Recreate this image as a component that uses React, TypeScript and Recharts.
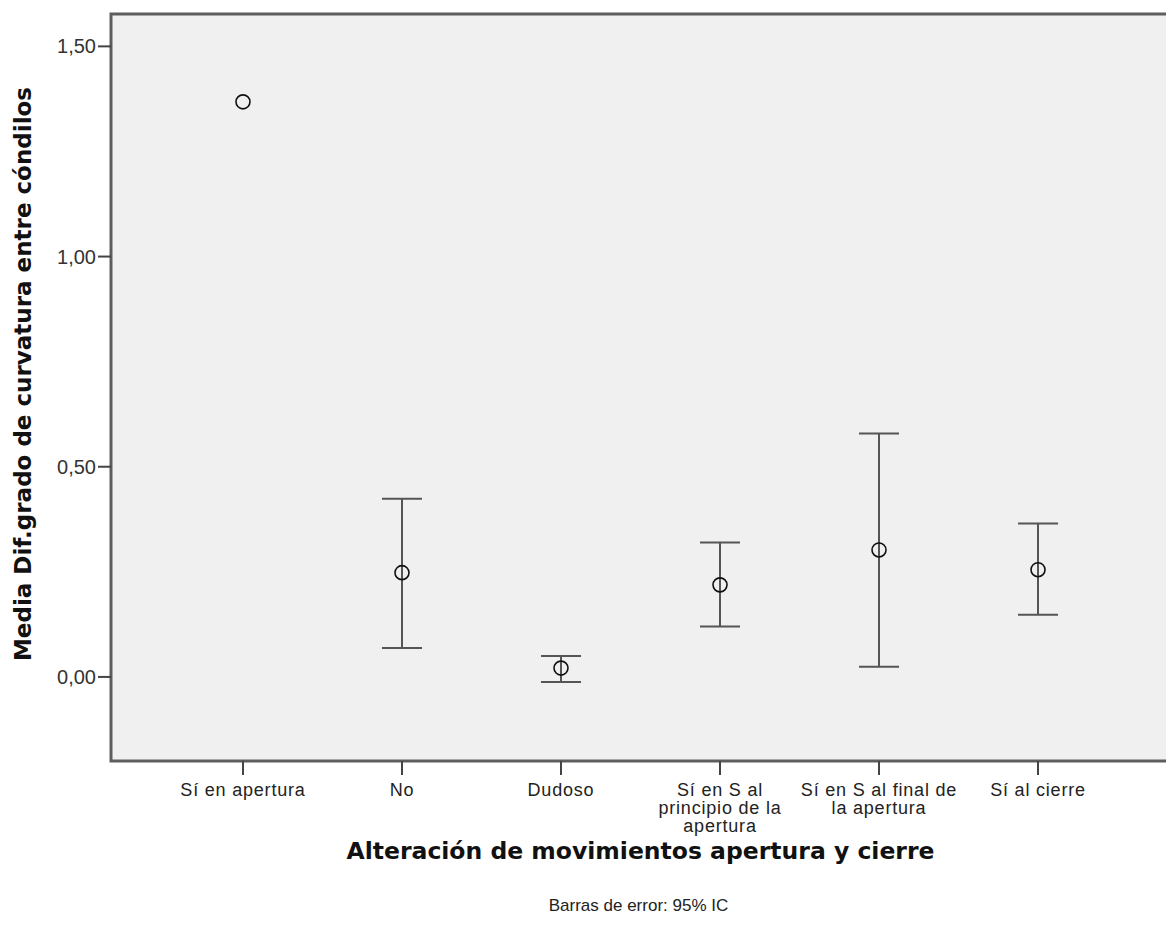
import React from "react";
import {
  ScatterChart,
  Scatter,
  XAxis,
  YAxis,
  ErrorBar,
  ReferenceArea,
} from "recharts";

// group labels, "\n" marks a line break in the axis label
const categories = [
  "Sí en apertura",
  "No",
  "Dudoso",
  "Sí en S al\nprincipio de la\napertura",
  "Sí en S al final de\nla apertura",
  "Sí al cierre",
];
const means = [1.368, 0.248, 0.021, 0.219, 0.302, 0.255];
const ciLower = [null, 0.069, -0.012, 0.12, 0.024, 0.148];
const ciUpper = [null, 0.424, 0.05, 0.32, 0.579, 0.365];
const yTicks = [0, 0.5, 1, 1.5];

const Y_MIN = -0.2;
const Y_MAX = 1.577;
const X_MIN = 0.17;
const X_MAX = 6.83;

const FONT = "'Liberation Sans', Arial, sans-serif";
const TITLE_FONT = "'DejaVu Sans', Verdana, sans-serif";

const points = categories.map((name, i) => {
  const lo = ciLower[i];
  const hi = ciUpper[i];
  return {
    x: i + 1,
    name,
    mean: means[i],
    ci: lo == null || hi == null ? null : [means[i] - lo, hi - means[i]],
  };
});

const MeanMarker = (props: any) => {
  const { cx, cy } = props;
  if (cx == null || cy == null) return null;
  return <circle cx={cx} cy={cy} r={7} fill="none" stroke="#111" strokeWidth={1.6} />;
};

const CategoryTick = (props: any) => {
  const { x, y, payload } = props;
  const label = categories[Math.round(payload.value) - 1] ?? "";
  const lines = label.split("\n");
  return (
    <text
      x={x}
      y={y}
      textAnchor="middle"
      fontFamily={FONT}
      fontSize={18}
      letterSpacing={0.8}
      fill="#222"
    >
      {lines.map((line, i) => (
        <tspan key={i} x={x} dy={i === 0 ? 19 : 18}>
          {line}
        </tspan>
      ))}
    </text>
  );
};

const formatTick = (v: number) => v.toFixed(2).replace(".", ",");

const App: React.FC = () => {
  return (
    <div
      style={{
        position: "absolute",
        left: 0,
        top: 0,
        width: 1166,
        height: 947,
        overflow: "hidden",
        background: "#fff",
      }}
    >
      <ScatterChart
        width={1170}
        height={947}
        margin={{ top: 14, right: 0, bottom: 0, left: 0 }}
      >
        <ReferenceArea
          x1={X_MIN}
          x2={X_MAX}
          y1={Y_MIN}
          y2={Y_MAX}
          fill="#f0f0f0"
          fillOpacity={1}
          stroke="#5e5e5e"
          strokeWidth={3}
        />
        <XAxis
          type="number"
          dataKey="x"
          domain={[X_MIN, X_MAX]}
          ticks={[1, 2, 3, 4, 5, 6]}
          interval={0}
          allowDataOverflow
          height={186}
          axisLine={false}
          tickLine={{ stroke: "#444", strokeWidth: 2 }}
          tickSize={14}
          tickMargin={2}
          tick={<CategoryTick />}
        />
        <YAxis
          type="number"
          dataKey="mean"
          domain={[Y_MIN, Y_MAX]}
          ticks={yTicks}
          allowDataOverflow
          width={111}
          axisLine={false}
          tickLine={{ stroke: "#444", strokeWidth: 2 }}
          tickSize={13}
          tickMargin={2}
          tickFormatter={formatTick}
          tick={{ fontFamily: FONT, fontSize: 20, fill: "#333" }}
        />
        <Scatter
          data={points}
          dataKey="mean"
          shape={<MeanMarker />}
          isAnimationActive={false}
        >
          <ErrorBar
            dataKey="ci"
            direction="y"
            width={20}
            stroke="#555"
            strokeWidth={2}
            isAnimationActive={false}
          />
        </Scatter>
      </ScatterChart>

      <div
        style={{
          position: "absolute",
          left: 10,
          top: 14,
          width: 26,
          height: 720,
          display: "flex",
          alignItems: "center",
          justifyContent: "center",
        }}
      >
        <div
          style={{
            transform: "rotate(-90deg)",
            whiteSpace: "nowrap",
            fontFamily: TITLE_FONT,
            fontWeight: "bold",
            fontSize: 23,
            color: "#111",
          }}
        >
          Media Dif.grado de curvatura entre cóndilos
        </div>
      </div>

      <div
        style={{
          position: "absolute",
          left: 111,
          width: 1059,
          top: 837,
          textAlign: "center",
          fontFamily: TITLE_FONT,
          fontWeight: "bold",
          fontSize: 23.5,
          color: "#111",
        }}
      >
        Alteración de movimientos apertura y cierre
      </div>

      <div
        style={{
          position: "absolute",
          left: 111,
          width: 1055,
          top: 896,
          textAlign: "center",
          fontFamily: FONT,
          fontSize: 17,
          color: "#222",
        }}
      >
        Barras de error: 95% IC
      </div>
    </div>
  );
};

export default App;
